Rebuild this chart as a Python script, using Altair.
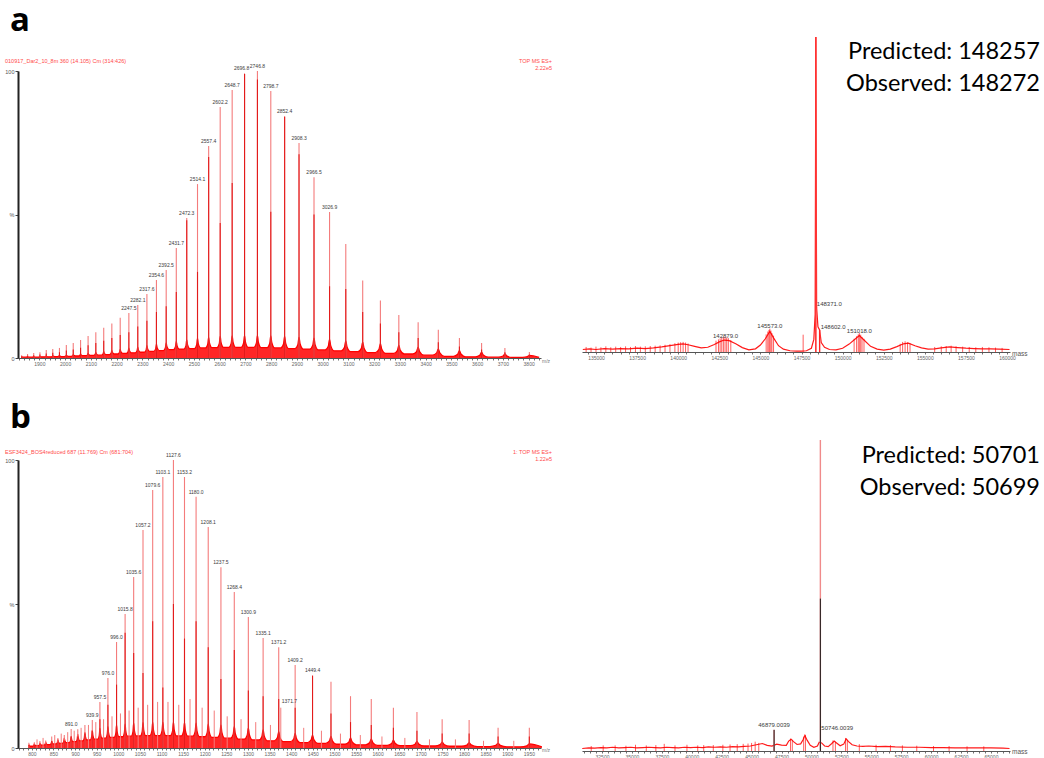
import altair as alt
import pandas as pd

FONT = "Liberation Sans"
RED = "#ff0000"
PINK = "#f47c7c"
DARK = "#e31b1b"
LAB = "#3a3a3a"
AXC = "#707070"
HDR = "#ff4a4a"

# ---------------- panel a, left: m/z spectrum ----------------
a_mz = [1831.0, 1854.1, 1878.0, 1902.1, 1926.7, 1952.0, 1978.0, 2004.7, 2031.5, 2060.0,
        2089.2, 2119.2, 2149.9, 2181.4, 2213.9, 2247.5, 2282.1, 2317.6, 2354.6, 2392.5,
        2431.7, 2472.3, 2514.1, 2557.4, 2602.2, 2648.7, 2696.8, 2746.8, 2798.7, 2852.4,
        2908.3, 2966.5, 3026.9, 3089.9, 3155.6, 3224.3, 3295.9, 3370.9, 3449.2, 3531.2,
        3617.3, 3707.8, 3802.8]
a_int = [1.0, 1.4, 1.7, 2.0, 2.8, 3.1, 3.5, 4.5, 5.2, 6.3,
         7.7, 9.0, 10.5, 12.0, 14.0, 15.7, 18.5, 22.3, 27.2, 30.7,
         38.3, 48.8, 60.6, 73.9, 87.5, 93.4, 99.0, 100.0, 93.0, 84.3,
         74.9, 63.0, 50.9, 39.7, 27.0, 20.0, 15.0, 12.5, 9.8, 7.0,
         5.2, 3.5, 2.1]
a_core = [0.6, 0.8, 1.0, 1.2, 1.6, 1.8, 2.0, 2.6, 3.0, 3.6,
          4.4, 5.2, 6.0, 7.0, 8.0, 9.0, 11.0, 13.0, 16.0, 18.0,
          23.0, 48.0, 30.0, 70.0, 47.0, 61.0, 99.0, 97.0, 51.0, 84.0,
          71.0, 50.0, 25.0, 24.0, 16.0, 12.0, 9.0, 7.0, 5.5, 4.0,
          3.0, 2.0, 1.2]
a_tail = [0.5, 0.5, 0.6, 0.6, 0.7, 0.8, 0.9, 1.0, 1.2, 1.4,
          1.6, 1.9, 2.2, 2.6, 3.0, 3.4, 3.8, 4.3, 4.8, 5.3,
          5.8, 6.3, 6.8, 7.2, 7.5, 7.7, 7.8, 7.8, 7.7, 7.5,
          7.2, 6.9, 6.5, 6.0, 5.5, 5.0, 4.4, 3.8, 3.2, 2.6,
          2.0, 1.4, 0.9]
a_valley = [0.3, 0.3, 0.3, 0.4, 0.4, 0.5, 0.5, 0.6, 0.7, 0.8,
            0.9, 1.0, 1.2, 1.4, 1.6, 1.8, 2.0, 2.3, 2.6, 2.9,
            3.1, 3.3, 3.5, 3.6, 3.7, 3.7, 3.7, 3.6, 3.5, 3.3,
            3.1, 2.8, 2.5, 2.2, 1.9, 1.6, 1.4, 1.0, 0.6, 0.4,
            0.3, 0.2, 0.2]
a_lab = [2247.5, 2282.1, 2317.6, 2354.6, 2392.5, 2431.7, 2472.3, 2514.1, 2557.4, 2602.2,
         2648.7, 2696.8, 2746.8, 2798.7, 2852.4, 2908.3, 2966.5, 3026.9]
a_lab_shifted = [2696.8]          # label drawn a little to the left of its peak

# ---------------- panel a, right: deconvoluted mass ----------------
ar_mass = [134200, 134600, 135000, 135500, 136000, 136500, 137000, 137500, 138000, 138500,
           139000, 139500, 140000, 140300, 140600, 141000, 141400, 141800, 142200, 142500,
           142800, 143100, 143500, 143900, 144300, 144700, 145000, 145300, 145573, 145800,
           146100, 146400, 146800, 147200, 147500, 147800, 148100, 148250, 148330, 148371,
           148420, 148500, 148602, 148700, 148900, 149200, 149600, 150000, 150400, 150800,
           151018, 151300, 151700, 152100, 152500, 152900, 153300, 153700, 154000, 154400,
           154800, 155200, 155600, 156000, 156500, 157000, 157500, 158000, 158500, 159000,
           159500, 160150]
ar_int = [0.8, 1.0, 0.8, 1.1, 0.9, 1.1, 1.0, 1.2, 1.1, 1.3,
          1.6, 2.0, 2.4, 2.6, 2.3, 1.8, 1.3, 1.5, 2.4, 3.2,
          3.8, 3.6, 2.6, 1.4, 0.7, 1.0, 2.2, 4.2, 6.5, 4.5,
          2.0, 0.9, 0.4, 0.3, 0.3, 0.4, 1.2, 4.0, 12.0, 100.0,
          14.0, 8.0, 7.0, 3.0, 1.5, 0.8, 0.7, 1.2, 2.5, 4.3,
          5.2, 3.8, 1.8, 0.9, 0.6, 0.9, 1.7, 2.6, 2.8, 2.0,
          1.3, 0.9, 1.0, 1.3, 1.6, 1.4, 1.2, 1.1, 1.0, 1.0,
          0.9, 0.8]
ar_spk_mass = [134400, 134700, 135000, 135300, 135600, 135900, 136200, 136500, 136800, 137100,
               137400, 137700, 138000, 138300, 138600, 138900, 139200, 139500, 139800, 140000,
               140150, 140300, 140450, 140600, 142300, 142450, 142550, 142650, 142750, 142850,
               142950, 143050, 143200, 145350, 145450, 145520, 145573, 145640, 145700, 145800,
               147600, 150700, 150850, 150950, 151018, 151100, 151180, 151300, 153500, 153650,
               153800, 153950, 154100, 155600, 156000, 156300, 156600, 156900, 157300, 157700,
               158100, 158500, 158900, 159300, 159700]
ar_spk_int = [1.6, 1.4, 1.7, 1.5, 1.8, 1.5, 1.7, 1.6, 1.8, 1.6,
              1.9, 1.7, 1.8, 1.9, 2.0, 2.1, 2.3, 2.5, 2.8, 3.0,
              3.1, 3.2, 3.0, 2.7, 3.6, 4.0, 4.3, 4.6, 4.8, 4.9,
              4.6, 4.4, 3.8, 5.6, 6.5, 7.0, 7.4, 6.8, 6.0, 5.2,
              5.5, 4.2, 5.0, 5.6, 6.0, 5.5, 4.8, 4.2, 2.6, 3.2,
              3.4, 3.1, 2.8, 1.6, 1.8, 1.9, 2.0, 1.8, 1.7, 1.6,
              1.5, 1.6, 1.5, 1.4, 1.3]
ar_pk_mass = [148371.0, 148602.0]
ar_pk_int = [100.0, 7.0]
ar_lab_text = ["142879.0", "145573.0", "148371.0", "148602.0", "151018.0"]
ar_lab_mass = [142879, 145573, 148371, 148602, 151018]
ar_lab_lvl = [4.4, 7.6, 14.6, 7.3, 6.0]
ar_lab_align = ["center", "center", "left", "left", "center"]

# ---------------- panel b, left: m/z spectrum ----------------
b_mz = [793.2, 805.8, 818.7, 832.1, 846.0, 860.3, 875.1, 891.0, 906.3, 922.8,
        939.9, 957.5, 976.0, 996.0, 1015.8, 1035.6, 1057.2, 1079.6, 1103.1, 1127.6,
        1153.2, 1180.0, 1208.1, 1237.5, 1268.4, 1300.9, 1335.1, 1371.2, 1409.2, 1449.4,
        1492.1, 1537.3, 1585.3, 1636.5, 1691.0, 1749.3, 1811.7, 1878.7, 1951.0]
b_int = [1.8, 2.0, 2.4, 2.6, 4.0, 3.5, 4.5, 6.6, 6.5, 8.0,
         9.7, 16.0, 24.3, 36.8, 46.5, 59.4, 75.7, 89.6, 94.1, 100.0,
         94.1, 87.2, 76.7, 62.8, 54.2, 45.5, 38.2, 35.0, 28.8, 25.3,
         23.0, 18.0, 17.0, 14.0, 12.5, 10.0, 9.7, 7.0, 7.0]
b_core = [1.0, 1.2, 1.4, 1.5, 2.4, 2.0, 2.6, 4.0, 4.0, 5.0,
          6.0, 10.0, 15.0, 22.0, 40.0, 33.0, 26.0, 44.0, 21.0, 50.0,
          38.0, 44.0, 35.0, 24.0, 34.0, 20.0, 18.0, 17.0, 14.0, 25.0,
          12.0, 9.0, 8.0, 7.0, 6.0, 5.0, 5.0, 4.0, 4.0]
b_tail = [1.2, 1.4, 1.7, 2.0, 2.4, 2.9, 3.4, 4.0, 4.7, 5.4,
          6.1, 6.8, 7.4, 7.9, 8.3, 8.6, 8.8, 8.9, 8.9, 8.9,
          8.8, 8.6, 8.3, 7.9, 7.4, 6.9, 6.3, 5.7, 5.1, 4.5,
          4.0, 3.5, 3.1, 2.7, 2.3, 2.0, 1.8, 1.6, 1.4]
b_valley = [0.6, 0.8, 1.0, 1.2, 1.4, 1.6, 1.9, 2.2, 2.5, 2.8,
            3.1, 3.4, 3.7, 3.9, 4.1, 4.2, 4.3, 4.3, 4.3, 4.2,
            4.1, 3.9, 3.7, 3.4, 3.1, 2.8, 2.5, 2.2, 1.9, 1.6,
            1.3, 1.1, 0.9, 0.8, 0.7, 0.6, 0.5, 0.4, 0.4]
b_lab = [891.0, 939.9, 957.5, 976.0, 996.0, 1015.8, 1035.6, 1057.2, 1079.6, 1103.1,
         1127.6, 1153.2, 1180.0, 1208.1, 1237.5, 1268.4, 1300.9, 1335.1, 1371.2, 1409.2,
         1449.4]
b_sec_mz = [812.0, 826.0, 853.0, 868.0, 883.0, 898.0, 914.0, 931.0, 948.0, 966.0,
            985.5, 1005.0, 1025.0, 1046.0, 1068.0, 1091.0, 1115.0, 1140.0, 1166.0, 1194.0,
            1222.0, 1252.0, 1284.0, 1318.0, 1352.0, 1376.0, 1429.0, 1470.0, 1514.0, 1560.0,
            1610.0, 1663.0, 1720.0, 1780.0, 1845.0, 1915.0]
b_sec_int = [3.0, 3.5, 4.5, 5.0, 5.5, 6.0, 7.0, 8.0, 9.0, 10.0,
             11.0, 12.0, 13.0, 14.0, 15.0, 16.0, 16.0, 15.0, 17.0, 14.0,
             13.0, 11.0, 10.0, 9.0, 8.0, 14.0, 7.0, 6.0, 5.0, 4.5,
             4.0, 3.5, 3.0, 3.0, 2.5, 2.5]
b_sec_lab = ["1371.7"]
b_sec_lab_mz = [1376.0]
b_sec_lab_lvl = [15.5]

# ---------------- panel b, right: deconvoluted mass ----------------
br_mass = [30850, 31400, 31900, 32400, 32900, 33400, 33900, 34400, 34900, 35400,
           35900, 36400, 36900, 37400, 37900, 38400, 38900, 39400, 39900, 40400,
           40900, 41400, 41900, 42400, 42900, 43400, 43900, 44400, 44900, 45400,
           45900, 46300, 46700, 47100, 47500, 47900, 48100, 48300, 48500, 48800,
           49100, 49300, 49450, 49650, 49900, 50200, 50500, 50650, 50850, 51100,
           51400, 51700, 51900, 52100, 52400, 52700, 52900, 53100, 53400, 53800,
           54300, 54800, 55500, 56200, 57000, 58000, 59000, 60000, 61000, 62000,
           63000, 64000, 65000, 66000, 66550]
br_int = [0.8, 1.0, 0.9, 1.1, 1.0, 1.2, 1.0, 1.1, 1.2, 1.0,
          1.1, 1.2, 1.1, 1.0, 1.2, 1.1, 1.0, 1.2, 1.1, 1.2,
          1.1, 1.3, 1.2, 1.3, 1.2, 1.4, 1.3, 1.5, 1.6, 2.0,
          2.4, 1.8, 1.6, 2.2, 1.9, 1.8, 3.2, 3.8, 3.0, 2.1,
          2.3, 3.6, 5.0, 3.4, 1.8, 1.2, 1.6, 2.8, 2.6, 1.6,
          1.4, 2.4, 3.2, 2.6, 1.7, 2.2, 3.9, 3.0, 2.0, 1.6,
          1.5, 1.6, 1.4, 1.5, 1.3, 1.2, 1.2, 1.1, 1.1, 1.0,
          1.0, 1.0, 1.0, 0.9, 0.8]
br_spk_mass = [31600, 32600, 33600, 34500, 35300, 36200, 37000, 37700, 38600, 39600,
               40500, 41000, 41800, 42600, 43200, 43800, 44300, 44700, 45000, 45300,
               45600, 48250, 48400, 49350, 49500, 51800, 52000, 52850, 53000, 54000,
               55400, 56600, 57600, 58800, 60200, 61500, 63000, 64400]
br_spk_int = [1.6, 1.8, 1.8, 1.7, 2.0, 1.8, 1.9, 2.3, 1.8, 2.0,
              1.8, 1.9, 1.9, 2.0, 2.1, 2.2, 2.3, 2.4, 2.6, 3.0,
              2.6, 4.0, 3.6, 4.6, 5.2, 3.4, 3.0, 4.2, 3.6, 2.2,
              2.0, 1.9, 1.8, 1.7, 1.6, 1.6, 1.5, 1.5]
br_pk_mass = [46879.0, 50746.0]
br_pk_int = [6.8, 100.0]
br_pk_core = [6.8, 49.0]
br_lab_text = ["46879.0039", "50746.0039"]
br_lab_mass = [46879.0, 50746.0]
br_lab_lvl = [7.7, 6.75]
br_lab_align = ["center", "left"]


# ---------------- helpers ----------------
def u_trace(mz, tail, valley):
    """trace through the read levels: tail after each peak, trough, rise to next peak"""
    xs, ys = [], []
    for i in range(len(mz) - 1):
        m0, m1 = mz[i], mz[i + 1]
        g = m1 - m0
        t0, v, t1 = tail[i], valley[i], tail[i + 1]
        for f, lv in [(0.0, t0), (0.07, v + 0.45 * (t0 - v)), (0.28, v), (0.72, v),
                      (0.92, v + 0.35 * (t1 - v))]:
            xs.append(m0 + f * g)
            ys.append(lv)
    xs.append(mz[-1])
    ys.append(tail[-1])
    xs.append(mz[-1] + 0.4 * (mz[-1] - mz[-2]))
    ys.append(valley[-1])
    return pd.DataFrame({"x": xs, "y": ys, "b": [0.0] * len(xs)})


def sc(domain, rng=None):
    if rng is None:
        return alt.Scale(domain=domain, nice=False, zero=False)
    return alt.Scale(domain=domain, range=rng, nice=False, zero=False)


def xaxis(values, label_every, fmt="d"):
    return alt.Axis(values=values, labelExpr=f"datum.value % {label_every} == 0 ? datum.label : ''",
                    format=fmt, orient="bottom", tickSize=2, tickColor=AXC,
                    domainColor="#555555", labelFontSize=5, labelColor="#666666", labelFont=FONT,
                    labelPadding=1, labelOverlap=False, grid=False, title=None, labelFlush=False)


def yaxis():
    return alt.Axis(values=[0, 50, 100], labelExpr="datum.value == 50 ? '%' : datum.label",
                    orient="left", tickSize=3, tickColor="#444444",
                    domainColor="#222222", domainWidth=2, labelFontSize=5.5,
                    labelColor="#555555", labelFont=FONT, labelPadding=1, grid=False, title=None)


def note(text, x, y, size, color, align="left", weight="normal", font=FONT):
    return alt.Chart(alt.Data(values=[{}])).mark_text(
        text=text, fontSize=size, color=color, align=align, fontWeight=weight, font=font,
        baseline="alphabetic").encode(x=alt.value(x), y=alt.value(y))


def anchor(x, y):
    # zero-width invisible rule fixing the top-left corner of the whole figure
    return alt.Chart(alt.Data(values=[{}])).mark_rule(strokeWidth=0, opacity=0).encode(
        x=alt.value(x), x2=alt.value(x), y=alt.value(y), y2=alt.value(y))


def ms_panel(mz, inten, core, tail, valley, labels, shifted, xsc, ysc, xax, yax, extra,
             sec_mz=None, sec_int=None, sec_lab=None):
    pk = pd.DataFrame({"x": mz, "h": inten, "c": core, "b": [0.0] * len(mz)})
    tr = u_trace(mz, tail, valley)
    lab = pk[pk["x"].isin(labels)].copy()
    lab["t"] = [f"{v:.1f}" for v in lab["x"]]
    lab_c = lab[~lab["x"].isin(shifted)]
    lab_s = lab[lab["x"].isin(shifted)]

    def X(f):
        return alt.X(f, type="quantitative", scale=xsc, axis=xax)

    def Y(f):
        return alt.Y(f, type="quantitative", scale=ysc, axis=yax)

    band = alt.Chart(tr).mark_area(color=RED, opacity=0.85, interpolate="monotone").encode(
        x=X("x"), y=Y("y"), y2="b")
    trace = alt.Chart(tr).mark_line(color=RED, strokeWidth=1.3, interpolate="monotone").encode(
        x=X("x"), y=Y("y"))
    layers = [band, trace]
    if sec_mz is not None:
        sd = pd.DataFrame({"x": sec_mz, "h": sec_int, "b": [0.0] * len(sec_mz)})
        layers.append(alt.Chart(sd).mark_rule(color=PINK, strokeWidth=1).encode(x=X("x"), y=Y("h"), y2="b"))
    layers.append(alt.Chart(pk).mark_rule(color=PINK, strokeWidth=1.1).encode(x=X("x"), y=Y("h"), y2="b"))
    layers.append(alt.Chart(pk).mark_rule(color=DARK, strokeWidth=1.1).encode(x=X("x"), y=Y("c"), y2="b"))
    layers.append(alt.Chart(lab_c).mark_text(fontSize=5, font=FONT, color=LAB, dy=-3, baseline="alphabetic").encode(
        x=X("x"), y=Y("h"), text="t:N"))
    if len(lab_s):
        layers.append(alt.Chart(lab_s).mark_text(fontSize=5, font=FONT, color=LAB, dy=-4, dx=-3,
                                                 baseline="alphabetic").encode(x=X("x"), y=Y("h"), text="t:N"))
    if sec_lab is not None:
        sl = pd.DataFrame({"x": sec_lab[1], "y": sec_lab[2], "t": sec_lab[0]})
        layers.append(alt.Chart(sl).mark_text(fontSize=5, font=FONT, color=LAB, align="left", dx=1,
                                              baseline="alphabetic").encode(x=X("x"), y=Y("y"), text="t:N"))
    return alt.layer(*layers, *extra)


def mass_panel(tm, ti, sm, si, pm, pi, pc, top_col, core_col, lt, lm, ll, la, xsc, ysc, xax, extra):
    def X(f):
        return alt.X(f, type="quantitative", scale=xsc, axis=xax)

    def Y(f):
        return alt.Y(f, type="quantitative", scale=ysc, axis=None)

    tr = pd.DataFrame({"x": tm, "y": ti})
    sp = pd.DataFrame({"x": sm, "h": si, "b": [0.0] * len(sm)})
    pk = pd.DataFrame({"x": pm, "h": pi, "c": pc, "b": [0.0] * len(pm)})
    layers = [
        alt.Chart(tr).mark_line(color=RED, strokeWidth=1.2, opacity=0.9).encode(x=X("x"), y=Y("y")),
        alt.Chart(sp).mark_rule(color=RED, strokeWidth=0.8, opacity=0.8).encode(x=X("x"), y=Y("h"), y2="b"),
        alt.Chart(pk).mark_rule(color=top_col, strokeWidth=1.4).encode(x=X("x"), y=Y("h"), y2="b"),
        alt.Chart(pk).mark_rule(color=core_col, strokeWidth=1.0).encode(x=X("x"), y=Y("c"), y2="b"),
    ]
    for al in ["center", "left"]:
        ld = pd.DataFrame({"x": [m for m, a in zip(lm, la) if a == al],
                           "y": [v for v, a in zip(ll, la) if a == al],
                           "t": [t for t, a in zip(lt, la) if a == al]})
        if len(ld):
            layers.append(alt.Chart(ld).mark_text(fontSize=6, font=FONT, color=LAB, align=al,
                                                  dx=1 if al == "left" else 0, baseline="alphabetic").encode(
                x=X("x"), y=Y("y"), text="t:N"))
    return alt.layer(*layers, *extra)


# panel plot areas (absolute): a-left (18,37) 523x321 ; a-right (582,37) 428x315
#                              b-left (18,440) 523x308 ; b-right (582,440) 428x311
pa = ms_panel(a_mz, a_int, a_core, a_tail, a_valley, a_lab, a_lab_shifted,
              sc([1817, 3848]), sc([0, 100], [321, 34]),
              xaxis(list(range(1820, 3841, 20)), 100), yaxis(),
              [anchor(-18, -37),
               note("a", -8, -6, 33, "#000000", weight="bold", font="Open Sans"),
               note("010917_Dar2_10_8m 360 (14.105) Cm (314:426)", -13, 26, 5.5, HDR),
               note("TOP MS ES+", 534, 26, 5.5, HDR, align="right"),
               note("2.22e5", 534, 33, 5.5, HDR, align="right"),
               note("m/z", 524, 326, 5, "#777777")]).properties(width=523, height=321)

par = mass_panel(ar_mass, ar_int, ar_spk_mass, ar_spk_int, ar_pk_mass, ar_pk_int, ar_pk_int,
                 "#ff6a6a", "#ff1a1a",
                 ar_lab_text, ar_lab_mass, ar_lab_lvl, ar_lab_align,
                 sc([134150, 160180]), sc([0, 100]),
                 xaxis(list(range(134500, 160001, 500)), 2500),
                 [note("mass", 430, 319, 6.5, "#555555"),
                  note("Predicted: 148257", 458, 22, 23.5, "#000000", align="right", font="Lato"),
                  note("Observed: 148272", 458, 54, 23.5, "#000000", align="right", font="Lato")]
                 ).properties(width=428, height=315)

pb = ms_panel(b_mz, b_int, b_core, b_tail, b_valley, b_lab, [],
              sc([768, 1978]), sc([0, 100], [308, 20]),
              xaxis(list(range(770, 1971, 10)), 50), yaxis(),
              [note("b", -8, -12, 33, "#000000", weight="bold", font="Open Sans"),
               note("ESF3424_BOS4reduced 687 (11.769) Cm (681:704)", -13, 14, 5.5, HDR),
               note("1: TOP MS ES+", 534, 14, 5.5, HDR, align="right"),
               note("1.22e5", 534, 20.5, 5.5, HDR, align="right"),
               note("m/z", 524, 312, 5, "#777777")],
              b_sec_mz, b_sec_int, (b_sec_lab, b_sec_lab_mz, b_sec_lab_lvl)
              ).properties(width=523, height=308)

pbr = mass_panel(br_mass, br_int, br_spk_mass, br_spk_int, br_pk_mass, br_pk_int, br_pk_core,
                 "#f08a8a", "#1a1a1a",
                 br_lab_text, br_lab_mass, br_lab_lvl, br_lab_align,
                 sc([30830, 66590]), sc([0, 100]),
                 xaxis(list(range(31000, 66501, 500)), 2500),
                 [note("mass", 430, 314, 6.5, "#555555"),
                  note("Predicted: 50701", 458, 23, 23.5, "#000000", align="right", font="Lato"),
                  note("Observed: 50699", 458, 55, 23.5, "#000000", align="right", font="Lato")]
                 ).properties(width=428, height=311)

chart = alt.concat(pa, par, pb, pbr, columns=2,
                   spacing=alt.RowColnumber(row=82, column=41),
                   bounds="flush").properties(padding=0, background="white").configure_view(stroke=None)

chart.save("out.html", embed_options={"renderer": "svg", "actions": False})
